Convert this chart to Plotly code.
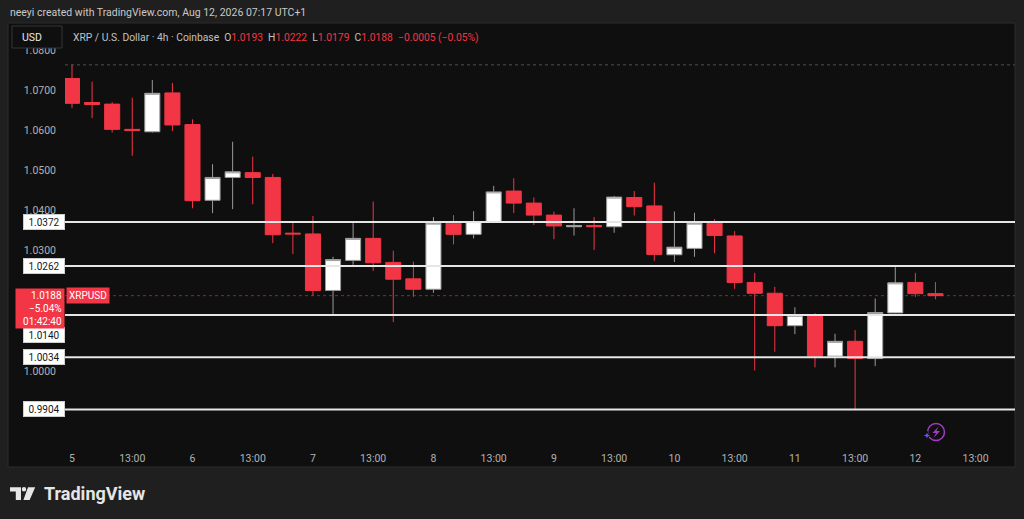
import plotly.graph_objects as go

# ---------------- data ----------------
opens = [1.0730, 1.0670, 1.0666, 1.0603, 1.0597, 1.0694, 1.0615, 1.0426, 1.0483, 1.0495,
         1.0483, 1.0344, 1.0342, 1.0201, 1.0276, 1.0331, 1.0271, 1.0230, 1.0204, 1.0369,
         1.0341, 1.0373, 1.0449, 1.0419, 1.0389, 1.0360, 1.0363, 1.0360, 1.0433, 1.0412,
         1.0290, 1.0306, 1.0369, 1.0337, 1.0221, 1.0194, 1.0113, 1.0138, 1.0037, 1.0074,
         1.0031, 1.0145, 1.0221, 1.0193]
highs = [1.0764, 1.0722, 1.0671, 1.0682, 1.0726, 1.0719, 1.0628, 1.0516, 1.0572, 1.0535,
         1.0492, 1.0369, 1.0387, 1.0285, 1.0369, 1.0423, 1.0300, 1.0273, 1.0384, 1.0389,
         1.0399, 1.0462, 1.0481, 1.0433, 1.0398, 1.0406, 1.0384, 1.0437, 1.0449, 1.0470,
         1.0398, 1.0395, 1.0379, 1.0349, 1.0245, 1.0210, 1.0159, 1.0144, 1.0093, 1.0102,
         1.0181, 1.0259, 1.0245, 1.0222]
lows = [1.0656, 1.0631, 1.0595, 1.0537, 1.0595, 1.0599, 1.0406, 1.0394, 1.0404, 1.0416,
        1.0319, 1.0292, 1.0188, 1.0142, 1.0265, 1.0250, 1.0122, 1.0185, 1.0195, 1.0316,
        1.0331, 1.0369, 1.0394, 1.0364, 1.0329, 1.0338, 1.0302, 1.0345, 1.0388, 1.0275,
        1.0272, 1.0285, 1.0294, 1.0205, 1.0001, 1.0048, 1.0092, 1.0009, 1.0009, 0.9905,
        1.0012, 1.0144, 1.0185, 1.0179]
closes = [1.0668, 1.0665, 1.0603, 1.0600, 1.0693, 1.0614, 1.0425, 1.0483, 1.0497, 1.0483,
          1.0340, 1.0342, 1.0201, 1.0278, 1.0331, 1.0270, 1.0229, 1.0204, 1.0369, 1.0341,
          1.0373, 1.0447, 1.0419, 1.0389, 1.0362, 1.0363, 1.0360, 1.0434, 1.0410, 1.0291,
          1.0309, 1.0369, 1.0338, 1.0221, 1.0194, 1.0113, 1.0139, 1.0037, 1.0074, 1.0031,
          1.0146, 1.0220, 1.0193, 1.0188]

x_tick_labels = ["5", "13:00", "6", "13:00", "7", "13:00", "8", "13:00",
                 "9", "13:00", "10", "13:00", "11", "13:00", "12", "13:00"]
y_tick_values = [1.00, 1.03, 1.04, 1.05, 1.06, 1.07, 1.08]
levels = [1.0372, 1.0262, 1.0140, 1.0034, 0.9904]
last_price = closes[-1]
change_pct_text = "−5.04%"
countdown_text = "01:42:40"
header_text = "neeyi created with TradingView.com, Aug 12, 2026 07:17 UTC+1"
symbol_text = "XRP / U.S. Dollar · 4h · Coinbase"

n = len(closes)
xs = list(range(n))
x_tick_pos = list(range(0, 3 * len(x_tick_labels), 3))

# ---------------- layout helpers ----------------
W, H = 1024, 519
L, R, T, B = 65, 1015, 23, 447  # plot area in pixels
RED = "#f23645"
FONT = "Roboto"


def px(xp):
    return (xp - L) / (R - L)


def py(yp):
    return (B - yp) / (B - T)


fig = go.Figure()
fig.add_trace(go.Candlestick(
    x=xs, open=opens, high=highs, low=lows, close=closes,
    increasing=dict(fillcolor="#ffffff", line=dict(color="#9a9a9a", width=1)),
    decreasing=dict(fillcolor=RED, line=dict(color=RED, width=1)),
    whiskerwidth=0, hoverinfo="skip", showlegend=False,
))

shapes = []
# panel background
shapes.append(dict(type="rect", xref="paper", yref="paper", x0=px(8), x1=px(1015),
                   y0=py(467), y1=py(23), fillcolor="#0f0f0f",
                   line=dict(color="#2c2c2c", width=1), layer="below"))
# top dotted (session high)
shapes.append(dict(type="line", xref="paper", yref="y", x0=0, x1=1,
                   y0=max(highs), y1=max(highs),
                   line=dict(color="#3a3a3a", width=1.5, dash="dot"), layer="below"))
# current price dotted line
shapes.append(dict(type="line", xref="paper", yref="y", x0=0, x1=1,
                   y0=last_price, y1=last_price,
                   line=dict(color="#8c2630", width=1, dash="dot"), layer="below"))
# support / resistance lines
for lv in levels:
    shapes.append(dict(type="line", xref="paper", yref="y", x0=0, x1=1, y0=lv, y1=lv,
                       line=dict(color="#e6e6e6", width=2), layer="above"))
# USD box
shapes.append(dict(type="rect", xref="paper", yref="paper", x0=px(12), x1=px(62),
                   y0=py(48), y1=py(26), fillcolor="#0f0f0f",
                   line=dict(color="#363636", width=1)))


def path(points):
    s = "M " + " L ".join(f"{px(a):.5f},{py(b):.5f}" for a, b in points) + " Z"
    return s


# TradingView logo glyph
logo_col = "#e6e6e6"
shapes.append(dict(type="path", xref="paper", yref="paper",
                   path=path([(10, 487.3), (21, 487.3), (21, 500), (15.8, 500), (15.8, 491.5), (10, 491.5)]),
                   fillcolor=logo_col, line=dict(width=0)))
shapes.append(dict(type="circle", xref="paper", yref="paper", x0=px(21.8), x1=px(26.2),
                   y0=py(491.5), y1=py(487.1), fillcolor=logo_col, line=dict(width=0)))
shapes.append(dict(type="path", xref="paper", yref="paper",
                   path=path([(28, 487.3), (35.2, 487.3), (29.6, 500), (23.4, 500)]),
                   fillcolor=logo_col, line=dict(width=0)))
# purple icon
shapes.append(dict(type="circle", xref="paper", yref="paper", x0=px(927.5), x1=px(944.5),
                   y0=py(440.5), y1=py(423.5), line=dict(color="#a23bc4", width=1.5)))
shapes.append(dict(type="path", xref="paper", yref="paper",
                   path=path([(938.5, 426.5), (932.5, 433), (936, 433), (933.5, 438), (940, 431), (936.5, 431)]),
                   fillcolor="#a23bc4", line=dict(width=0)))
shapes.append(dict(type="path", xref="paper", yref="paper",
                   path=path([(927, 431), (928.2, 434.3), (931.5, 435.5), (928.2, 436.7),
                              (927, 440), (925.8, 436.7), (922.5, 435.5), (925.8, 434.3)]),
                   fillcolor="#6a4ff2", line=dict(color="#0f0f0f", width=1)))

ann = []
ann.append(dict(text=header_text, xref="paper", yref="paper", x=px(8), y=py(13),
                xanchor="left", yanchor="middle", showarrow=False,
                font=dict(family=FONT, size=10.5, color="#c9c9c9")))
ann.append(dict(text="USD", xref="paper", yref="paper", x=px(20), y=py(37.5),
                xanchor="left", yanchor="middle", showarrow=False,
                font=dict(family=FONT, size=10.5, color="#e8e8e8")))
chg = closes[-1] - closes[-2]
pct = chg / closes[-2] * 100


def red(v):
    return f'<span style="color:{RED}">{v}</span>'


legend = (f'{symbol_text}  O{red(f"{opens[-1]:.4f}")}  H{red(f"{highs[-1]:.4f}")}  '
          f'L{red(f"{lows[-1]:.4f}")}  C{red(f"{closes[-1]:.4f}")}  '
          + red(f'{chg:+.4f} ({pct:+.2f}%)'.replace("-", "−")))
ann.append(dict(text=legend, xref="paper", yref="paper", x=px(71), y=py(37),
                xanchor="left", yanchor="middle", showarrow=False,
                font=dict(family=FONT, size=10.3, color="#c2c2c2")))

for lv in levels:
    shift = -20 if lv == 1.0140 else 0
    ann.append(dict(text=f"{lv:.4f}", xref="paper", yref="y", x=px(64.5), y=lv,
                    xanchor="right", yanchor="middle", showarrow=False, yshift=shift,
                    bgcolor="#ffffff", bordercolor="#cfcfcf", borderwidth=1, borderpad=1,
                    width=38, height=12, align="center",
                    font=dict(family=FONT, size=10, color="#131722")))

ann.append(dict(text=f"{last_price:.4f}<br>{change_pct_text}<br>{countdown_text}",
                xref="paper", yref="y", x=px(64.5), y=last_price, yshift=8,
                xanchor="right", yanchor="top", showarrow=False, align="right",
                bgcolor=RED, borderpad=2, width=44, height=35,
                font=dict(family=FONT, size=10, color="#ffffff")))
ann.append(dict(text="XRPUSD", xref="paper", yref="y", x=px(65.5), y=last_price,
                xanchor="left", yanchor="middle", showarrow=False,
                bgcolor=RED, borderpad=2,
                font=dict(family=FONT, size=10, color="#ffffff")))
ann.append(dict(text="<b>TradingView</b>", xref="paper", yref="paper", x=px(42), y=py(493.5),
                xanchor="left", yanchor="middle", showarrow=False,
                font=dict(family=FONT, size=18, color="#e6e6e6")))

fig.update_layout(
    width=W, height=H,
    margin=dict(l=L, r=W - R, t=T, b=H - B, pad=0),
    paper_bgcolor="#1f1f1f", plot_bgcolor="#0f0f0f",
    shapes=shapes, annotations=ann,
    boxgap=0.25, boxgroupgap=0,
    xaxis=dict(range=[(L - 72) / 20.08, (R - 72) / 20.08], rangeslider=dict(visible=False),
               tickvals=x_tick_pos, ticktext=x_tick_labels, showgrid=False, zeroline=False,
               showline=False, ticks="", ticklabelstandoff=3,
               tickfont=dict(family=FONT, size=10.5, color="#b2b2b2")),
    yaxis=dict(range=[1.07 - (B - 90.5) / 4007, 1.07 + (90.5 - T) / 4007],
               tickvals=y_tick_values, tickformat=".4f", showgrid=False, zeroline=False,
               showline=False, ticks="", ticklabelstandoff=8,
               tickfont=dict(family=FONT, size=10.5, color="#b2b2b2")),
    hovermode=False,
)

fig.write_html("out.html", config={"displayModeBar": False},
               post_script="document.body.style.margin='0';document.body.style.overflow='hidden';")
